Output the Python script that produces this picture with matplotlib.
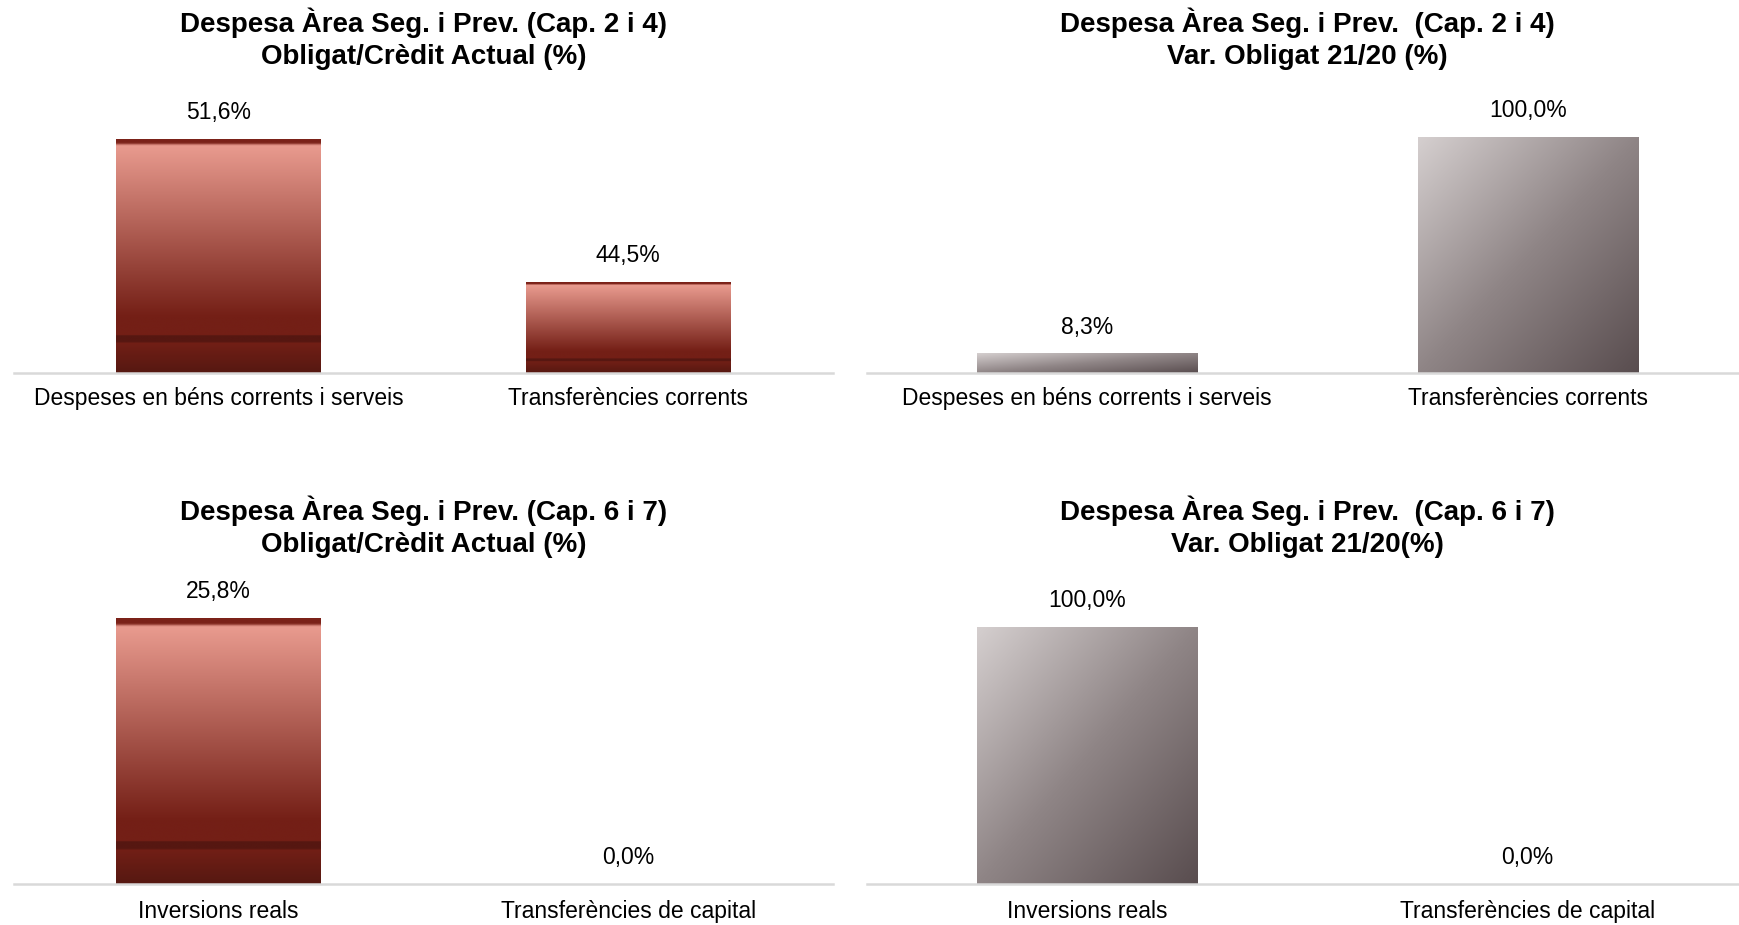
import numpy as np
import matplotlib.pyplot as plt
from matplotlib.colors import LinearSegmentedColormap

plt.rcParams['font.family'] = ['Liberation Sans', 'DejaVu Sans']

# dades dels quatre gràfics
cats_cap24 = ['Despeses en béns corrents i serveis', 'Transferències corrents']
cats_cap67 = ['Inversions reals', 'Transferències de capital']
oblig_cap24 = [51.6, 44.5]
var_cap24 = [8.3, 100.0]
oblig_cap67 = [25.8, 0.0]
var_cap67 = [100.0, 0.0]

titol_oblig_24 = 'Despesa Àrea Seg. i Prev. (Cap. 2 i 4)\nObligat/Crèdit Actual (%)'
titol_var_24 = 'Despesa Àrea Seg. i Prev.  (Cap. 2 i 4)\nVar. Obligat 21/20 (%)'
titol_oblig_67 = 'Despesa Àrea Seg. i Prev. (Cap. 6 i 7)\nObligat/Crèdit Actual (%)'
titol_var_67 = 'Despesa Àrea Seg. i Prev.  (Cap. 6 i 7)\nVar. Obligat 21/20(%)'

# degradats semblants als de l'Excel
cmap_vermell = LinearSegmentedColormap.from_list('vermell', [
    (0.0, '#7B2219'), (0.018, '#7B2219'), (0.03, '#E99B8F'),
    (0.76, '#741F16'), (0.84, '#731F16'), (0.842, '#561711'),
    (0.87, '#561711'), (0.872, '#721F16'), (1.0, '#561811')])
cmap_gris = LinearSegmentedColormap.from_list('gris', [
    (0.0, '#D5CFCF'), (0.5, '#8F8586'), (1.0, '#594D4F')])

W, H = 1740, 925


def omple_degradat(ax, barra, cmap, diagonal):
    x0, y0 = barra.get_x(), barra.get_y()
    w, h = barra.get_width(), barra.get_height()
    if h <= 0:
        return
    if diagonal:
        u = np.linspace(0, 1, 300)
        img = (u[None, :] + u[:, None]) / 2
    else:
        img = np.linspace(0, 1, 1500)[:, None]
    im = ax.imshow(img, cmap=cmap, extent=[x0, x0 + w, y0, y0 + h],
                   origin='upper', aspect='auto', zorder=2)
    im.set_clip_path(barra)
    barra.set_facecolor('none')
    barra.set_edgecolor('none')


def panell(rect, cats, vals, ymin, ymax, cmap, diagonal, titol, y_titol, pad):
    l, t, r, b = rect
    ax = fig.add_axes([l / W, 1 - b / H, (r - l) / W, (b - t) / H])
    x = np.arange(len(cats))
    barres = ax.bar(x, np.array(vals) - ymin, bottom=ymin, width=0.5)
    for barra in barres:
        omple_degradat(ax, barra, cmap, diagonal)
    for xi, v in zip(x, vals):
        ax.annotate(f'{v:.1f}'.replace('.', ',') + '%', (xi, v),
                    xytext=(0, 19), textcoords='offset points',
                    ha='center', va='center', fontsize=16.5)
    ax.set_xlim(-0.5, len(cats) - 0.5)
    ax.set_ylim(ymin, ymax)
    ax.set_xticks(x, cats, fontsize=16.5)
    ax.set_yticks([])
    ax.tick_params(axis='x', length=0, pad=pad)
    for s in ['left', 'right', 'top']:
        ax.spines[s].set_visible(False)
    ax.spines['bottom'].set_color('#D9D9D9')
    ax.spines['bottom'].set_linewidth(1.8)
    fig.text((l + r) / 2 / W, 1 - y_titol / H, titol, ha='center', va='center',
             fontsize=20, fontweight='bold', linespacing=1.3)
    return ax


fig = plt.figure(figsize=(W / 100, H / 100), dpi=100)

panell((14, 90, 833, 373), cats_cap24, oblig_cap24, 40, 54,
       cmap_vermell, False, titol_oblig_24, 39, 10)
panell((867, 90, 1748, 373), cats_cap24, var_cap24, 0, 120,
       cmap_gris, True, titol_var_24, 39, 10)
panell((14, 575, 833, 884), cats_cap67, oblig_cap67, 0, 30,
       cmap_vermell, False, titol_oblig_67, 527, 11.5)
panell((867, 575, 1748, 884), cats_cap67, var_cap67, 0, 120,
       cmap_gris, True, titol_var_67, 527, 11.5)

fig.savefig('out.png', dpi=100)
